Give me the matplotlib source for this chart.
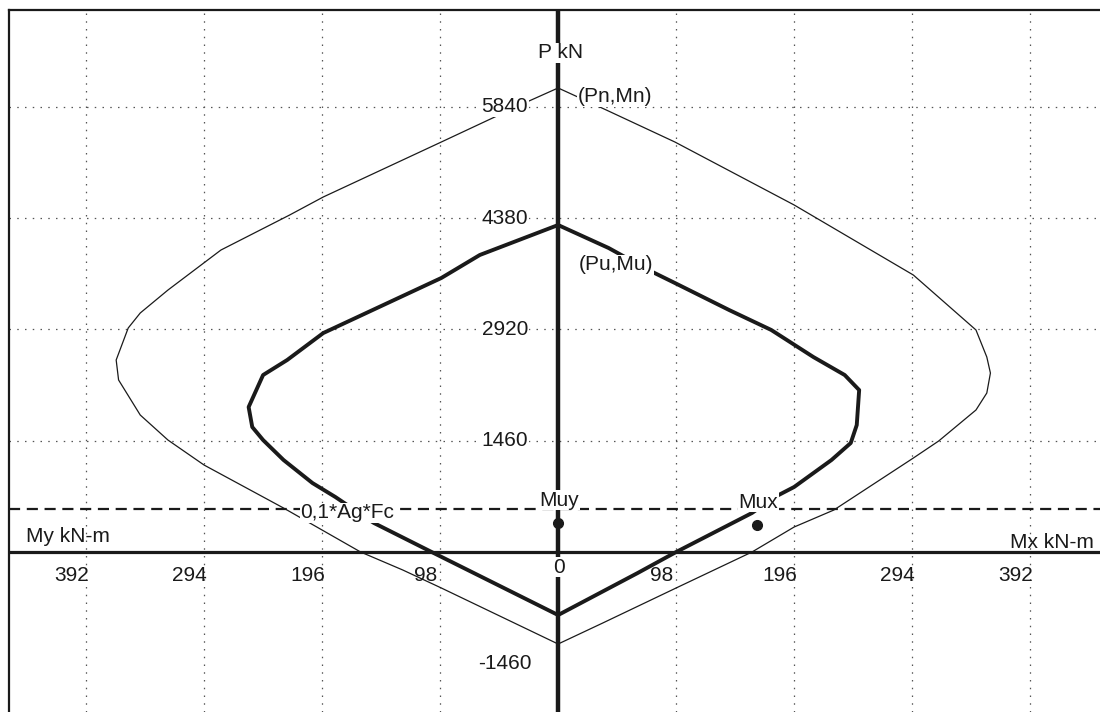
import matplotlib.pyplot as plt

# interaction diagram values (M in kN-m, P in kN)
# right half = Mx, left half = My (drawn as negative M)
mn_outer = [0, 40, 97, 196, 295, 347, 356, 359, 356, 347, 316, 295, 229, 196, 161, 98, 37, 0,
            -97, -129, -164, -228, -294, -324, -347, -365, -367, -357, -347, -324, -280, -223,
            -195, -97, -26, 0]
pn_outer = [6088, 5799, 5379, 4553, 3634, 2913, 2558, 2348, 2086, 1863, 1456, 1233, 551, 328, 0,
            -472, -932, -1207, -472, -236, 0, 577, 1141, 1469, 1797, 2257, 2519, 2939, 3136, 3437,
            3962, 4421, 4658, 5379, 5904, 6088]

mu_inner = [0, 42, 75, 97, 142, 177, 212, 238, 250, 248, 243, 227, 196, 180, 161, 98, 66, 0,
            -105, -153, -185, -204, -228, -245, -254, -257, -245, -225, -195, -97, -65, 0]
pu_inner = [4290, 3988, 3700, 3529, 3175, 2913, 2558, 2322, 2125, 1666, 1430, 1207, 853, 722, 512,
            0, -276, -827, 0, 381, 722, 905, 1207, 1469, 1640, 1902, 2322, 2519, 2873, 3595, 3897,
            4290]

muy_point = (0, 380)
mux_point = (165, 355)
p_limit = 560  # 0,1*Ag*Fc

m_ticks = [98, 196, 294, 392]
p_ticks = [1460, 2920, 4380, 5840]
p_neg_tick = -1460

plt.rcParams["font.family"] = ["Liberation Sans", "DejaVu Sans"]
ink = "#1a1a1a"

fig = plt.figure(figsize=(11, 7.12), dpi=100)
ax = fig.add_axes([9 / 1100, 0, 1091 / 1100, 702 / 712])
ax.set_xlim(-456, 450)
ax.set_ylim(-2099, 7111)
ax.set_xticks([])
ax.set_yticks([])
for side in ("right", "bottom"):
    ax.spines[side].set_visible(False)
for side in ("top", "left"):
    ax.spines[side].set_linewidth(1.6)
    ax.spines[side].set_color(ink)

grid_style = dict(color="#555555", lw=0.9, linestyle=(0, (1.2, 5)), zorder=1)
for m in m_ticks:
    ax.axvline(m, **grid_style)
    ax.axvline(-m, **grid_style)
for p in p_ticks:
    ax.axhline(p, **grid_style)

ax.axhline(p_limit, color=ink, lw=1.6, linestyle=(0, (5, 3)), zorder=2)
ax.axvline(0, color=ink, lw=3.2, zorder=3)
ax.axhline(0, color=ink, lw=2.3, zorder=3)

ax.plot(mn_outer, pn_outer, color=ink, lw=0.9, zorder=4)
ax.plot(mu_inner, pu_inner, color=ink, lw=2.8, zorder=4)
ax.plot(*muy_point, "o", color=ink, ms=7, zorder=5)
ax.plot(*mux_point, "o", color=ink, ms=7, zorder=5)

fs = 15
white = dict(fc="white", ec="none", pad=0.5)
for p in p_ticks:
    ax.text(-25, p, str(p), ha="right", va="center", fontsize=fs, color=ink, bbox=white, zorder=6)
ax.text(-22, p_neg_tick, str(p_neg_tick), ha="right", va="center", fontsize=fs, color=ink, zorder=6)
for m in m_ticks:
    ax.text(m - 12, -302, str(m), ha="center", va="center", fontsize=fs, color=ink, zorder=6)
    ax.text(-m - 12, -302, str(m), ha="center", va="center", fontsize=fs, color=ink, zorder=6)
ax.text(1, -197, "0", ha="center", va="center", fontsize=fs, color=ink, bbox=white, zorder=6)

ax.text(2, 6549, "P kN", ha="center", va="center", fontsize=fs, color=ink, bbox=white, zorder=6)
ax.text(-442, 197, "My kN-m", ha="left", va="center", fontsize=fs, color=ink, zorder=6)
ax.text(445, 131, "Mx kN-m", ha="right", va="center", fontsize=fs, color=ink, zorder=6)
ax.text(16, 5971, "(Pn,Mn)", ha="left", va="center", fontsize=fs, color=ink, bbox=white, zorder=6)
ax.text(17, 3766, "(Pu,Mu)", ha="left", va="center", fontsize=fs, color=ink, bbox=white, zorder=6)
ax.text(1, 682, "Muy", ha="center", va="center", fontsize=fs, color=ink, bbox=white, zorder=6)
ax.text(166, 656, "Mux", ha="center", va="center", fontsize=fs, color=ink, bbox=white, zorder=6)
ax.text(-175, 512, "0,1*Ag*Fc", ha="center", va="center", fontsize=fs, color=ink, bbox=white, zorder=6)

fig.savefig("out.png", dpi=100)
plt.close(fig)
